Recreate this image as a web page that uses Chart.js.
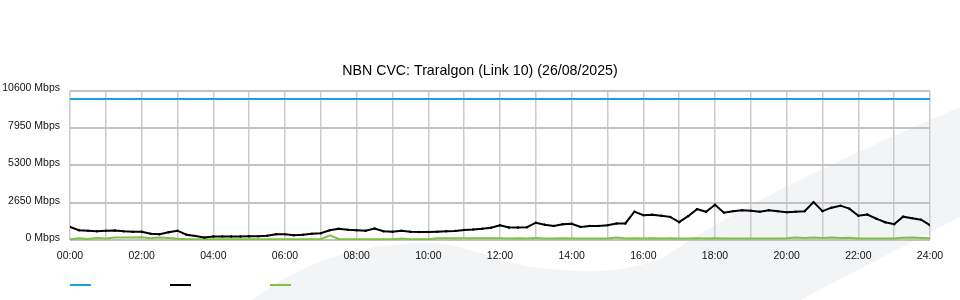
<!DOCTYPE html>
<html>
<head>
<meta charset="utf-8">
<title>NBN CVC: Traralgon (Link 10)</title>
<script src="https://cdn.jsdelivr.net/npm/chart.js@4.4.1/dist/chart.umd.min.js"></script>
<style>
  html, body { margin: 0; padding: 0; background: #fff; }
</style>
</head>
<body>
<canvas id="cvc" width="960" height="300"></canvas>
<script>
// ------------------------------------------------------------------
// Data (Mbps, one sample every 15 minutes from 00:00 to 24:00)
// ------------------------------------------------------------------
const titleText = 'NBN CVC: Traralgon (Link 10) (26/08/2025)';
const slotHours = 0.25;

// Provisioned capacity: flat for the whole day.
const capacityHours = [0, 24];
const capacityMbps  = [10000, 10000];

const downloadMbps = [
  930, 696, 660, 625, 660, 675, 625, 590, 590, 447, 412, 554,
  660, 376, 291, 178, 249, 249, 249, 249, 270, 270, 305, 412,
  400, 341, 376, 447, 483, 696, 802, 731, 696, 660, 817, 625,
  590, 660, 590, 568, 568, 590, 625, 646, 717, 746, 802, 873,
  1050, 888, 888, 909, 1228, 1086, 1001, 1122, 1157, 930, 1001, 1001,
  1050, 1172, 1172, 2009, 1761, 1796, 1725, 1640, 1264, 1690, 2187, 2000,
  2500, 1938, 2045, 2116, 2080, 2009, 2116, 2045, 1974, 2009, 2045, 2684,
  2045, 2293, 2435, 2222, 1725, 1810, 1512, 1264, 1122, 1654, 1548, 1441,
  1050,
];

const uploadMbps = [
  60, 130, 70, 140, 100, 170, 180, 170, 190, 130, 170, 150,
  90, 60, 60, 60, 60, 60, 60, 60, 60, 60, 60, 60,
  60, 60, 60, 60, 60, 330, 70, 60, 60, 60, 60, 60,
  60, 110, 60, 60, 60, 130, 130, 130, 130, 130, 130, 130,
  120, 100, 130, 110, 140, 110, 100, 130, 110, 100, 110, 100,
  110, 180, 110, 120, 100, 130, 110, 130, 100, 110, 130, 110,
  130, 100, 110, 100, 100, 110, 100, 100, 120, 170, 140, 170,
  150, 170, 150, 160, 110, 100, 100, 100, 110, 160, 170, 150,
  130,
];

// Axis ticks: grid every hour, label every second hour.
const hourLabels = [
  '00:00', '', '02:00', '', '04:00', '', '06:00', '', '08:00', '', '10:00', '', '12:00',
  '', '14:00', '', '16:00', '', '18:00', '', '20:00', '', '22:00', '', '24:00',
];
const mbpsTicks = [0, 2650, 5300, 7950, 10600];

const seriesColors = ['#1ba1e2', '#000000', '#7dc242'];

// ------------------------------------------------------------------
// Helpers
// ------------------------------------------------------------------
const toPoints = (values) => values.map((v, i) => ({ x: i * slotHours, y: v }));

/** Short coloured stroke used as a legend symbol (no label text). */
function legendSwatch(color) {
  const c = document.createElement('canvas');
  c.width = 95;
  c.height = 2;
  const g = c.getContext('2d');
  g.fillStyle = color;
  g.fillRect(0, 0, 21, 2);
  return c;
}

/** Faint background swoosh behind the plot. */
const watermark = {
  id: 'watermark',
  beforeDraw(chart) {
    const { ctx, width: w, height: h } = chart;
    ctx.save();
    ctx.fillStyle = '#f3f4f6';
    ctx.beginPath();
    ctx.moveTo(253, h);
    ctx.bezierCurveTo(300, 262, 360, 244, 420, 243);
    ctx.bezierCurveTo(470, 242, 490, 262, 540, 268);
    ctx.bezierCurveTo(590, 274, 625, 272, 663, 258);
    ctx.quadraticCurveTo(749, 197, w, 107);
    ctx.lineTo(w, 217);
    ctx.lineTo(800, h);
    ctx.closePath();
    ctx.fill();
    ctx.restore();
  },
};

Chart.defaults.font.family = '"Liberation Sans", Arial, sans-serif';
Chart.defaults.color = '#111';

const swatches = seriesColors.map(legendSwatch);

new Chart(document.getElementById('cvc'), {
  type: 'line',
  data: {
    datasets: [
      {
        label: 'Capacity',
        data: capacityHours.map((x, i) => ({ x, y: capacityMbps[i] })),
        borderColor: seriesColors[0],
        borderWidth: 2,
        pointRadius: 0,
      },
      {
        label: 'Download',
        data: toPoints(downloadMbps),
        borderColor: seriesColors[1],
        borderWidth: 2,
        pointRadius: 1.2,
        pointBorderWidth: 0,
        pointBackgroundColor: seriesColors[1],
      },
      {
        label: 'Upload',
        data: toPoints(uploadMbps),
        borderColor: seriesColors[2],
        borderWidth: 2,
        pointRadius: 0,
      },
    ],
  },
  options: {
    responsive: false,
    animation: false,
    layout: { padding: 0 },
    plugins: {
      tooltip: { enabled: false },
      title: {
        display: true,
        text: titleText,
        color: '#000',
        font: { size: 14.2, weight: 'normal' },
        padding: { top: 63, bottom: 10.5 },
      },
      legend: {
        position: 'bottom',
        align: 'start',
        fullSize: false,
        labels: {
          usePointStyle: true,
          pointStyleWidth: 95,
          padding: 0,
          font: { size: 10 },
          generateLabels: (chart) => chart.data.datasets.map((ds, i) => ({
            text: '',
            datasetIndex: i,
            pointStyle: swatches[i],
            fillStyle: ds.borderColor,
            strokeStyle: ds.borderColor,
            lineWidth: 0,
            hidden: false,
          })),
        },
      },
    },
    scales: {
      x: {
        type: 'linear',
        min: 0,
        max: 24,
        border: { display: false },
        grid: { color: '#cbcbcb', lineWidth: 1.5, drawTicks: false },
        afterBuildTicks: (scale) => { scale.ticks = hourLabels.map((_, h) => ({ value: h })); },
        afterFit: (scale) => { scale.height = 40; },
        ticks: {
          autoSkip: false,
          maxRotation: 0,
          padding: 10,
          font: { size: 10.5 },
          callback: (value, index) => hourLabels[index],
        },
      },
      y: {
        min: 0,
        max: 10600,
        border: { display: false },
        grid: { color: '#c2c2c2', lineWidth: 2, drawTicks: false },
        afterBuildTicks: (scale) => { scale.ticks = mbpsTicks.map((value) => ({ value })); },
        afterFit: (scale) => { scale.width = 70; },
        ticks: {
          padding: 10,
          labelOffset: -2,
          font: { size: 10.5 },
          callback: (value) => value + ' Mbps',
        },
      },
      // Empty right-hand gutter so the plot ends at the same place as the original.
      gutter: {
        position: 'right',
        border: { display: false },
        grid: { display: false },
        ticks: { display: false },
        afterFit: (scale) => { scale.width = 30; },
      },
    },
  },
  plugins: [watermark],
});
</script>
</body>
</html>
